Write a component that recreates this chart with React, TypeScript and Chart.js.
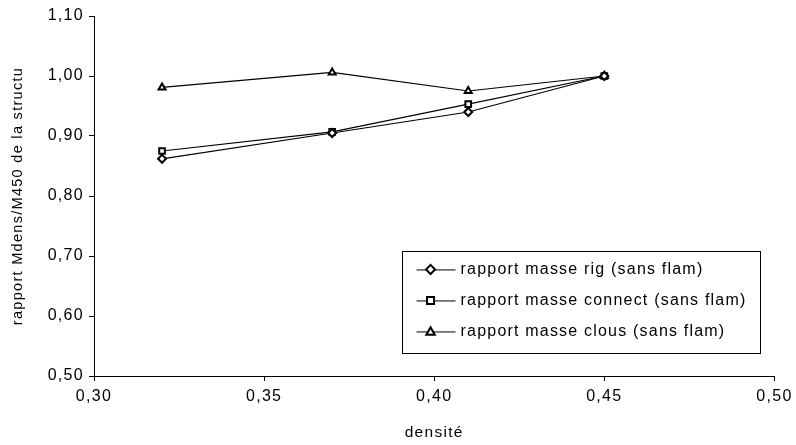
import React, { useEffect, useRef } from "react";
import { Chart, registerables } from "chart.js";

Chart.register(...registerables);

const densities = [0.32, 0.37, 0.41, 0.45];
const rigValues = [0.862, 0.905, 0.94, 1.0];
const connectValues = [0.875, 0.907, 0.953, 1.0];
const clousValues = [0.981, 1.006, 0.975, 1.0];
const seriesLabels = [
  "rapport masse rig (sans flam)",
  "rapport masse connect (sans flam)",
  "rapport masse clous (sans flam)",
];
const pointStyles = ["rectRot", "rect", "triangle"];
const xTitle = "densité";
const yTitle = "rapport Mdens/M450 de la structu";

const FONT = "'Liberation Sans', Arial, Helvetica, sans-serif";
const fmt = (v: number) => v.toFixed(2).replace(".", ",");

function drawMarker(ctx: CanvasRenderingContext2D, style: string, x: number, y: number, r: number) {
  ctx.beginPath();
  if (style === "rectRot") {
    const d = r * 1.3;
    ctx.moveTo(x, y - d);
    ctx.lineTo(x + d, y);
    ctx.lineTo(x, y + d);
    ctx.lineTo(x - d, y);
    ctx.closePath();
  } else if (style === "rect") {
    ctx.rect(x - r, y - r, 2 * r, 2 * r);
  } else {
    const h = r * 1.2;
    ctx.moveTo(x, y - h);
    ctx.lineTo(x + h, y + h * 0.8);
    ctx.lineTo(x - h, y + h * 0.8);
    ctx.closePath();
  }
  ctx.fillStyle = "#fff";
  ctx.fill();
  ctx.lineWidth = 2;
  ctx.strokeStyle = "#000";
  ctx.stroke();
}

const spacingPlugin = {
  id: "spacing",
  beforeDraw(chart: any) {
    (chart.ctx as any).letterSpacing = "1.3px";
  },
};

const legendBoxPlugin = {
  id: "legendBox",
  afterDraw(chart: any) {
    const ctx: CanvasRenderingContext2D = chart.ctx;
    const a = chart.chartArea;
    const w = a.right - a.left;
    const h = a.bottom - a.top;
    const bx = a.left + w * 0.452;
    const by = a.top + h * 0.654;
    const bw = w * 0.526;
    const bh = h * 0.284;
    ctx.save();
    ctx.fillStyle = "#fff";
    ctx.fillRect(bx, by, bw, bh);
    ctx.strokeStyle = "#000";
    ctx.lineWidth = 1;
    ctx.strokeRect(Math.round(bx) + 0.5, Math.round(by) + 0.5, Math.round(bw), Math.round(bh));
    ctx.font = `16px ${FONT}`;
    (ctx as any).letterSpacing = "1.2px";
    ctx.textBaseline = "middle";
    ctx.textAlign = "left";
    seriesLabels.forEach((label, i) => {
      const cy = by + 18 + i * 31;
      ctx.beginPath();
      ctx.moveTo(bx + 15, cy + 0.5);
      ctx.lineTo(bx + 54, cy + 0.5);
      ctx.strokeStyle = "#000";
      ctx.lineWidth = 1;
      ctx.stroke();
      drawMarker(ctx, pointStyles[i], bx + 29, cy, 3.5);
      ctx.fillStyle = "#000";
      ctx.fillText(label, bx + 59, cy);
    });
    ctx.restore();
  },
};

export default function App() {
  const ref = useRef<HTMLCanvasElement | null>(null);
  useEffect(() => {
    if (!ref.current) return;
    const mk = (vals: number[]) => densities.map((x, i) => ({ x, y: vals[i] }));
    const ds = [rigValues, connectValues, clousValues].map((vals, i) => ({
      label: seriesLabels[i],
      data: mk(vals),
      borderColor: "#000",
      borderWidth: 1.2,
      backgroundColor: "#fff",
      pointStyle: pointStyles[i] as any,
      pointRadius: 4,
      pointBorderWidth: 2,
      pointBorderColor: "#000",
      pointBackgroundColor: "#fff",
      tension: 0,
    }));
    const chart = new Chart(ref.current, {
      type: "line",
      data: { datasets: ds },
      plugins: [spacingPlugin, legendBoxPlugin],
      options: {
        animation: false,
        responsive: false,
        layout: { padding: { top: 16, right: 19, left: 0, bottom: 0 } },
        plugins: { legend: { display: false }, tooltip: { enabled: false } },
        scales: {
          x: {
            type: "linear",
            min: 0.3,
            max: 0.5,
            ticks: {
              stepSize: 0.05,
              callback: (v: any) => fmt(Number(v)),
              color: "#000",
              font: { family: FONT, size: 16 },
              padding: 6,
              maxRotation: 0,
            },
            grid: { drawOnChartArea: false, drawTicks: true, tickLength: 5, color: "#000" },
            border: { color: "#000", width: 1 },
            title: {
              display: true,
              text: xTitle,
              color: "#000",
              font: { family: FONT, size: 15.5 },
              padding: { top: 0, bottom: 3 },
            },
            afterFit: (s: any) => {
              s.height = 69;
            },
          },
          y: {
            min: 0.5,
            max: 1.1,
            ticks: {
              stepSize: 0.1,
              callback: (v: any) => fmt(Number(v)),
              color: "#000",
              font: { family: FONT, size: 16 },
              padding: 5,
            },
            grid: { drawOnChartArea: false, drawTicks: true, tickLength: 5, color: "#000" },
            border: { color: "#000", width: 1 },
            title: {
              display: true,
              text: yTitle,
              color: "#000",
              font: { family: FONT, size: 14.5 },
              padding: { top: 9, bottom: 0 },
            },
            afterFit: (s: any) => {
              s.width = 94;
            },
          },
        },
      },
    });
    return () => chart.destroy();
  }, []);
  return (
    <div style={{ position: "absolute", left: 0, top: 0, width: 796, height: 445, background: "#fff" }}>
      <canvas ref={ref} width={796} height={445} style={{ display: "block" }} />
    </div>
  );
}
